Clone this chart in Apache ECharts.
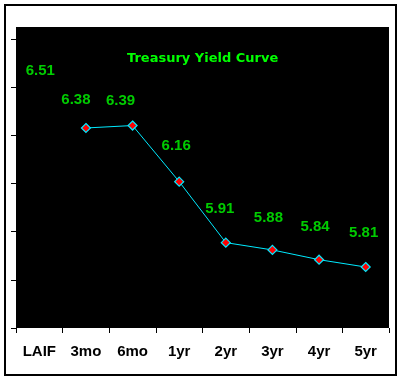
<!DOCTYPE html>
<html>
<head>
<meta charset="utf-8">
<script src="https://cdn.jsdelivr.net/npm/echarts@6/dist/echarts.min.js"></script>
<style>
html,body{margin:0;padding:0;background:#fff;}
#chart{width:403px;height:381px;}
</style>
</head>
<body>
<div id="chart"></div>
<script>
// ---- data ----
const categories = ['LAIF', '3mo', '6mo', '1yr', '2yr', '3yr', '4yr', '5yr'];
const labelYields = [6.51, 6.38, 6.39, 6.16, 5.91, 5.88, 5.84, 5.81];
const curveYields = ['-', 6.38, 6.39, 6.16, 5.91, 5.88, 5.84, 5.81];
const titleText = 'Treasury Yield Curve';

// ---- styling (label nudges, in px) ----
const labelOffsets = [[1, -25], [-10, -28], [-12, -25], [-3, -36], [-6, -34], [-4, -32], [-4, -33], [-2, -34]];

const chart = echarts.init(document.getElementById('chart'), null, {renderer: 'canvas'});
const green = '#00ff00';
const cyan = '#00eaff';

chart.setOption({
  animation: false,
  backgroundColor: '#fff',
  title: {
    text: titleText,
    left: 122,
    top: 47,
    textStyle: {color: green, fontSize: 13, fontWeight: 'bold', fontFamily: 'DejaVu Sans'}
  },
  grid: [
    {left: 16, right: 14, top: 27, bottom: 53, show: true, backgroundColor: '#000', borderWidth: 0, containLabel: false},
    {left: 16, right: 14, top: 39, bottom: 53, show: false, containLabel: false}
  ],
  xAxis: [
    {
      type: 'category', gridIndex: 0, data: categories, boundaryGap: true,
      axisLine: {show: false},
      axisTick: {show: true, length: 5, lineStyle: {color: '#000', width: 1}},
      axisLabel: {color: '#000', fontSize: 15, fontWeight: 'bold', fontFamily: 'Liberation Sans', margin: 16, interval: 0},
      splitLine: {show: false}
    },
    {type: 'value', gridIndex: 1, show: false, min: 0, max: 1}
  ],
  yAxis: [
    {type: 'value', gridIndex: 0, min: 5.56, max: 6.794, show: false, splitLine: {show: false}},
    {
      type: 'value', gridIndex: 1, min: 0, max: 6, interval: 1,
      axisLine: {show: false},
      axisTick: {show: true, length: 5, lineStyle: {color: '#000', width: 1}},
      axisLabel: {show: false},
      splitLine: {show: false}
    }
  ],
  series: [
    {
      type: 'line', xAxisIndex: 0, yAxisIndex: 0,
      data: curveYields,
      lineStyle: {color: cyan, width: 1},
      symbol: 'diamond', symbolSize: 9, showSymbol: true,
      itemStyle: {color: '#ff0000', borderColor: cyan, borderWidth: 1.2},
      label: {show: false},
      z: 3
    },
    {
      type: 'scatter', xAxisIndex: 0, yAxisIndex: 0,
      data: labelYields.map((v, i) => ({
        value: [i, v],
        label: {offset: labelOffsets[i]}
      })),
      symbolSize: 1,
      itemStyle: {color: 'rgba(0,0,0,0)'},
      label: {
        show: true, position: 'inside',
        formatter: p => p.value[1].toFixed(2),
        color: green, fontSize: 15, fontWeight: 'bold', fontFamily: 'Liberation Sans'
      },
      z: 4
    }
  ],
  graphic: [
    {type: 'rect', shape: {x: 5, y: 5, width: 391, height: 370}, style: {fill: 'none', stroke: '#000', lineWidth: 2}, z: 10}
  ]
});
</script>
</body>
</html>
